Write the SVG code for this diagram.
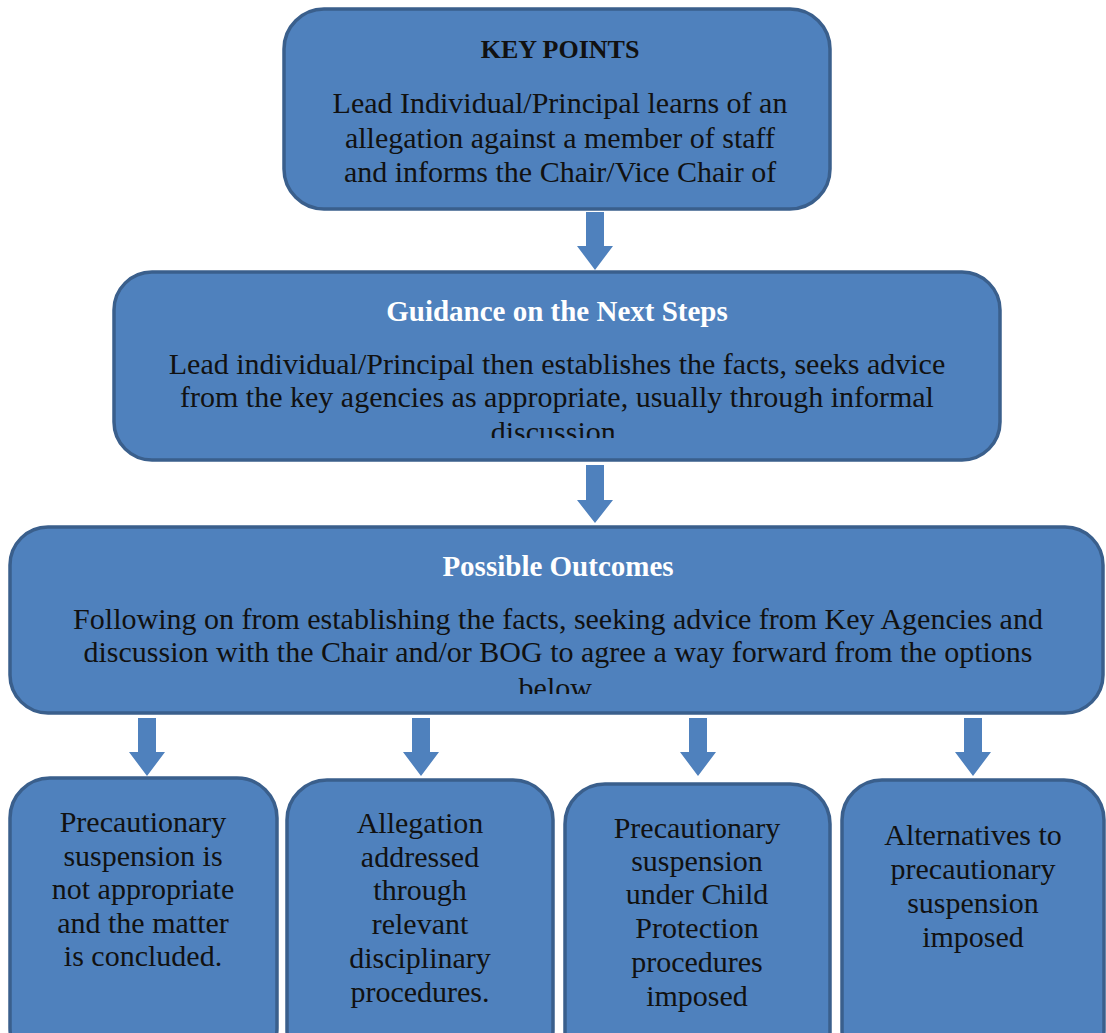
<svg xmlns="http://www.w3.org/2000/svg" width="1106" height="1033" viewBox="0 0 1106 1033">
<style>
.box{fill:#4F81BD;stroke:#3A5F8C;stroke-width:3.5}
.arr{fill:#4F81BD}
text{font-family:"Liberation Serif","Times New Roman",serif;font-size:30px;text-anchor:middle;fill:#111}
.t{font-weight:bold;font-size:26px}
.w{fill:#fff;font-size:29px}
</style>
<defs>
<clipPath id="c2"><rect x="113" y="271" width="887" height="167"/></clipPath>
<clipPath id="c3"><rect x="10" y="526" width="1094" height="168"/></clipPath>
</defs>
<g id="connectors">
<path class="arr" d="M586 212H604V246H613L595 270L577 246H586Z"/>
<path class="arr" d="M586 465H604V500H613L595 523L577 500H586Z"/>
<path class="arr" d="M138 718H156V752H165L147 776L129 752H138Z"/>
<path class="arr" d="M412 718H430V752H439L421 776L403 752H412Z"/>
<path class="arr" d="M689 718H707V752H716L698 776L680 752H689Z"/>
<path class="arr" d="M964 718H982V752H991L973 776L955 752H964Z"/>
</g>
<g id="key-points">
<rect class="box" x="284" y="9" width="546" height="200" rx="40"/>
<text class="t" x="560" y="58">KEY POINTS</text>
<text x="560" y="113">Lead Individual/Principal learns of an</text>
<text x="560" y="148">allegation against a member of staff</text>
<text x="560" y="182">and informs the Chair/Vice Chair of</text>
</g>
<g id="guidance">
<rect class="box" x="114" y="272" width="886" height="188" rx="38"/>
<text class="t w" x="557" y="321">Guidance on the Next Steps</text>
<g clip-path="url(#c2)">
<text x="557" y="374">Lead individual/Principal then establishes the facts, seeks advice</text>
<text x="557" y="407">from the key agencies as appropriate, usually through informal</text>
<text x="557" y="442">discussion.</text>
</g>
</g>
<g id="outcomes">
<rect class="box" x="10" y="527" width="1093" height="186" rx="38"/>
<text class="t w" x="558" y="576">Possible Outcomes</text>
<g clip-path="url(#c3)">
<text x="558" y="629">Following on from establishing the facts, seeking advice from Key Agencies and</text>
<text x="558" y="662">discussion with the Chair and/or BOG to agree a way forward from the options</text>
<text x="558" y="698">below.</text>
</g>
</g>
<g id="outcome-1">
<rect class="box" x="10" y="778" width="267" height="290" rx="40"/>
<text x="143" y="832">Precautionary</text>
<text x="143" y="866">suspension is</text>
<text x="143" y="899">not appropriate</text>
<text x="143" y="933">and the matter</text>
<text x="143" y="966">is concluded.</text>
</g>
<g id="outcome-2">
<rect class="box" x="287" y="780" width="266" height="290" rx="40"/>
<text x="420" y="833">Allegation</text>
<text x="420" y="867">addressed</text>
<text x="420" y="900">through</text>
<text x="420" y="934">relevant</text>
<text x="420" y="968">disciplinary</text>
<text x="420" y="1002">procedures.</text>
</g>
<g id="outcome-3">
<rect class="box" x="565" y="784" width="265" height="290" rx="40"/>
<text x="697" y="838">Precautionary</text>
<text x="697" y="871">suspension</text>
<text x="697" y="904">under Child</text>
<text x="697" y="938">Protection</text>
<text x="697" y="972">procedures</text>
<text x="697" y="1006">imposed</text>
</g>
<g id="outcome-4">
<rect class="box" x="842" y="780" width="262" height="290" rx="40"/>
<text x="973" y="845">Alternatives to</text>
<text x="973" y="879">precautionary</text>
<text x="973" y="913">suspension</text>
<text x="973" y="947">imposed</text>
</g>
</svg>
